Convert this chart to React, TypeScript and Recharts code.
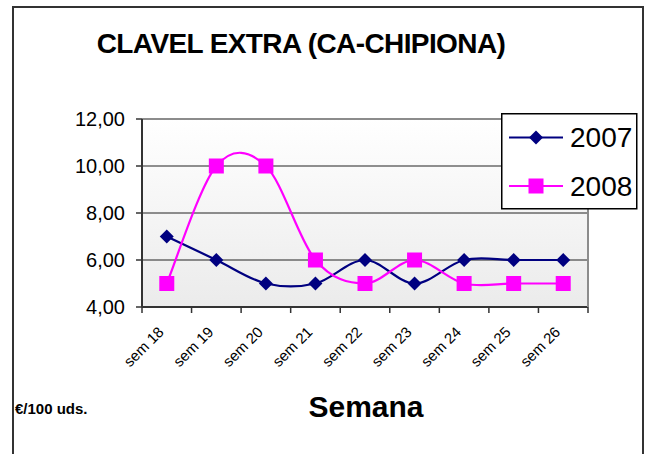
import React from "react";
import {
  LineChart,
  Line,
  XAxis,
  YAxis,
  CartesianGrid,
  Legend,
} from "recharts";

// Chart data
const weeks = ["sem 18", "sem 19", "sem 20", "sem 21", "sem 22", "sem 23", "sem 24", "sem 25", "sem 26"];
const values2007 = [7, 6, 5, 5, 6, 5, 6, 6, 6];
const values2008 = [5, 10, 10, 6, 5, 6, 5, 5, 5];
const yTicks = [4, 6, 8, 10, 12];

const FONT = "'Liberation Sans', Arial, Helvetica, sans-serif";
const NAVY = "#000080";
const MAGENTA = "#FF00FF";
const PLOT_W = 446;
const HALF_BAND = PLOT_W / (weeks.length * 2);
const LABEL_GAP = 26;

const data = weeks.map((week, i) => ({
  week,
  y2007: values2007[i],
  y2008: values2008[i],
}));

// Excel-like smoothed line (Catmull-Rom as bezier segments)
const excelSmooth = (context: any) => {
  let pts: [number, number][] = [];
  return {
    areaStart() {},
    areaEnd() {},
    lineStart() {
      pts = [];
    },
    point(x: number, y: number) {
      pts.push([+x, +y]);
    },
    lineEnd() {
      const n = pts.length;
      if (!n) return;
      context.moveTo(pts[0][0], pts[0][1]);
      for (let i = 0; i < n - 1; i++) {
        const p0 = pts[Math.max(0, i - 1)];
        const p1 = pts[i];
        const p2 = pts[i + 1];
        const p3 = pts[Math.min(n - 1, i + 2)];
        context.bezierCurveTo(
          p1[0] + (p2[0] - p0[0]) / 6,
          p1[1] + (p2[1] - p0[1]) / 6,
          p2[0] - (p3[0] - p1[0]) / 6,
          p2[1] - (p3[1] - p1[1]) / 6,
          p2[0],
          p2[1]
        );
      }
    },
  };
};

const diamondPath = (cx: number, cy: number, r: number) =>
  `M${cx},${cy - r}L${cx + r},${cy}L${cx},${cy + r}L${cx - r},${cy}Z`;

const DiamondDot = (props: any) => {
  const { cx, cy, index } = props;
  if (cx == null || cy == null) return null;
  return <path key={`d-${index}`} d={diamondPath(cx, cy, 7)} fill={NAVY} />;
};

const SquareDot = (props: any) => {
  const { cx, cy, index } = props;
  if (cx == null || cy == null) return null;
  return <rect key={`s-${index}`} x={cx - 7.5} y={cy - 7.5} width={15} height={15} fill={MAGENTA} />;
};

// rotated label + Excel style tick marks between categories
const WeekTick = (props: any) => {
  const { x, y, payload, index } = props;
  const axisY = y - LABEL_GAP;
  const ax = x - 2;
  const isLast = index === weeks.length - 1;
  return (
    <g>
      <line x1={x - HALF_BAND} x2={x - HALF_BAND} y1={axisY} y2={axisY + 6} stroke="#333" strokeWidth={1.5} />
      {isLast && (
        <line x1={x + HALF_BAND} x2={x + HALF_BAND} y1={axisY} y2={axisY + 6} stroke="#333" strokeWidth={1.5} />
      )}
      <text
        x={ax}
        y={y}
        transform={`rotate(-45 ${ax} ${y})`}
        textAnchor="end"
        fontSize={15}
        fontFamily={FONT}
        fill="#000"
      >
        {payload.value}
      </text>
    </g>
  );
};

const renderLegend = (props: any) => {
  const { payload = [] } = props;
  return (
    <svg width={137} height={97} style={{ display: "block" }}>
      <rect x={0.75} y={0.75} width={135} height={95} fill="#fff" stroke="#000" strokeWidth={1.5} />
      {payload.map((entry: any, i: number) => {
        const ly = i === 0 ? 24.5 : 73;
        const by = i === 0 ? 34 : 83;
        const isDiamond = entry.dataKey === "y2007";
        return (
          <g key={entry.value}>
            <line x1={8} x2={62} y1={ly} y2={ly} stroke={entry.color} strokeWidth={2} />
            {isDiamond ? (
              <path d={diamondPath(35, ly, 7)} fill={entry.color} />
            ) : (
              <rect x={27.5} y={ly - 7.5} width={15} height={15} fill={entry.color} />
            )}
            <text x={69} y={by} fontSize={28} fontFamily={FONT} fill="#000">
              {entry.value}
            </text>
          </g>
        );
      })}
    </svg>
  );
};

export default function App() {
  return (
    <div
      style={{
        position: "absolute",
        left: 0,
        top: 0,
        width: 648,
        height: 454,
        overflow: "hidden",
        background: "#fff",
        fontFamily: FONT,
      }}
    >
      <div
        style={{
          position: "absolute",
          left: 12,
          top: 6,
          width: 632,
          height: 470,
          border: "2px solid #333",
          boxSizing: "border-box",
        }}
      />
      <LineChart
        width={648}
        height={454}
        data={data}
        margin={{ top: 118, right: 59, bottom: 146, left: 0 }}
        style={{ position: "absolute", left: 0, top: 0 }}
      >
        <defs>
          <linearGradient id="plotGrad" x1="0" y1="0" x2="0" y2="1">
            <stop offset="0%" stopColor="#ffffff" />
            <stop offset="100%" stopColor="#ebebeb" />
          </linearGradient>
        </defs>
        <CartesianGrid
          xAxisId="cat"
          vertical={false}
          stroke="#222"
          strokeWidth={1}
          fill="url(#plotGrad)"
          fillOpacity={1}
        />
        <XAxis
          xAxisId="top"
          orientation="top"
          dataKey="week"
          height={1}
          tick={false}
          tickLine={false}
          axisLine={{ stroke: "#8c8c8c", strokeWidth: 2 }}
        />
        <XAxis
          xAxisId="cat"
          dataKey="week"
          interval={0}
          padding={{ left: HALF_BAND, right: HALF_BAND }}
          height={1}
          axisLine={{ stroke: "#333", strokeWidth: 2 }}
          tickLine={false}
          tickSize={0}
          tickMargin={LABEL_GAP}
          tick={<WeekTick />}
        />
        <YAxis
          yAxisId="right"
          orientation="right"
          domain={[4, 12]}
          width={1}
          tick={false}
          tickLine={false}
          axisLine={{ stroke: "#8c8c8c", strokeWidth: 2 }}
        />
        <YAxis
          domain={[4, 12]}
          ticks={yTicks}
          width={142}
          tickSize={6}
          tickMargin={11}
          tickFormatter={(v: number) => v.toFixed(2).replace(".", ",")}
          tick={{ fontSize: 20, fill: "#000", fontFamily: FONT }}
          axisLine={{ stroke: "#333", strokeWidth: 2 }}
          tickLine={{ stroke: "#333", strokeWidth: 1.5 }}
        />
        <Line
          xAxisId="cat"
          dataKey="y2007"
          name="2007"
          type={excelSmooth as any}
          stroke={NAVY}
          strokeWidth={2.2}
          dot={<DiamondDot />}
          activeDot={false}
          isAnimationActive={false}
        />
        <Line
          xAxisId="cat"
          dataKey="y2008"
          name="2008"
          type={excelSmooth as any}
          stroke={MAGENTA}
          strokeWidth={2.2}
          dot={<SquareDot />}
          activeDot={false}
          isAnimationActive={false}
        />
        <Legend
          layout="vertical"
          align="center"
          verticalAlign="middle"
          content={renderLegend}
          wrapperStyle={{ position: "absolute", left: 501, top: 113, width: 137, height: 97 }}
        />
      </LineChart>
      <svg
        width={648}
        height={454}
        style={{ position: "absolute", left: 0, top: 0, pointerEvents: "none" }}
      >
        <text
          x={301}
          y={53}
          textAnchor="middle"
          fontSize={28}
          fontWeight="bold"
          letterSpacing={-0.6}
          fontFamily={FONT}
          fill="#000"
        >
          CLAVEL EXTRA (CA-CHIPIONA)
        </text>
        <text
          x={366}
          y={416.5}
          textAnchor="middle"
          fontSize={30}
          fontWeight="bold"
          fontFamily={FONT}
          fill="#000"
        >
          Semana
        </text>
        <text x={15} y={414} fontSize={15} fontWeight="bold" fontFamily={FONT} fill="#000">
          €/100 uds.
        </text>
      </svg>
    </div>
  );
}
